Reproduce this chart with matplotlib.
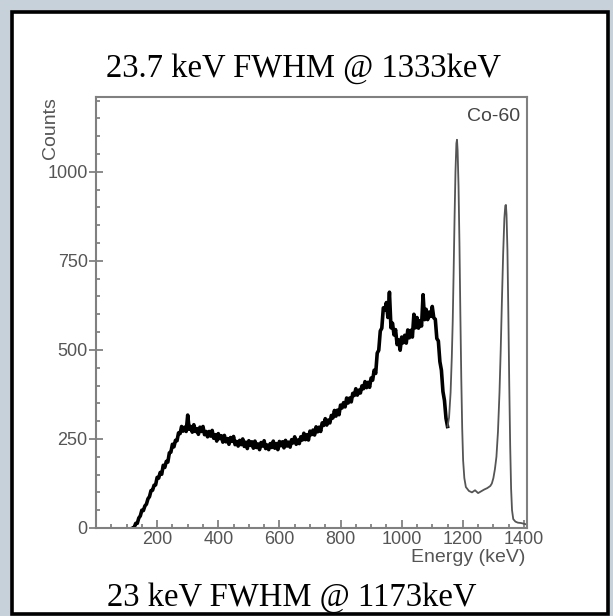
import numpy as np
import matplotlib.pyplot as plt
from matplotlib.patches import Rectangle
from matplotlib.ticker import MultipleLocator

# Co-60 spectrum, continuum part (noisy band), 5 keV bins from 120 keV
cont_energy = np.arange(120, 1151, 5)
cont_counts = [
    0, 2, 13, 13, 28, 34, 50, 49, 62, 67,
    82, 88, 105, 106, 120, 121, 142, 140, 156, 151,
    176, 170, 187, 185, 211, 213, 235, 228, 246, 245,
    267, 265, 285, 272, 283, 271, 317, 277, 285, 269,
    290, 271, 279, 263, 283, 271, 285, 262, 271, 256,
    271, 258, 274, 252, 262, 244, 265, 251, 259, 241,
    260, 242, 251, 235, 254, 243, 257, 234, 243, 230,
    246, 234, 250, 229, 241, 223, 245, 232, 242, 224,
    244, 226, 236, 220, 240, 230, 245, 223, 233, 220,
    237, 226, 244, 224, 237, 220, 243, 231, 242, 225,
    246, 230, 241, 227, 248, 239, 256, 235, 247, 237,
    256, 247, 266, 248, 262, 247, 272, 262, 275, 261,
    284, 270, 283, 271, 295, 288, 307, 289, 303, 295,
    316, 309, 330, 314, 331, 318, 345, 337, 352, 340,
    365, 351, 365, 354, 378, 372, 391, 373, 387, 379,
    399, 391, 411, 394, 409, 395, 421, 415, 443, 434,
    491, 499, 553, 561, 618, 612, 633, 591, 662, 562,
    575, 542, 557, 515, 528, 499, 536, 520, 541, 519,
    556, 534, 555, 536, 600, 562, 591, 561, 582, 567,
    655, 585, 614, 585, 606, 594, 622, 590, 586, 532,
    525, 467, 443, 383, 358, 308, 285,
]

# photopeaks at 1173 and 1333 keV (thin trace)
peak_energy = [1150, 1155, 1160, 1164, 1167, 1170, 1173, 1176, 1179, 1181,
               1183, 1186, 1189, 1192, 1195, 1198, 1201, 1205, 1210, 1220,
               1230, 1240, 1250, 1260, 1270, 1280, 1290, 1295, 1300, 1305,
               1310, 1315, 1320, 1324, 1328, 1332, 1336, 1339, 1341, 1343,
               1346, 1349, 1352, 1355, 1358, 1361, 1365, 1372, 1380, 1390,
               1400, 1408]
peak_counts = [285, 310, 380, 480, 580, 720, 870, 1000, 1080, 1090,
               1060, 960, 800, 600, 420, 280, 190, 140, 115, 104,
               100, 106, 98, 103, 108, 112, 118, 125, 140, 165,
               200, 270, 380, 500, 640, 770, 870, 905, 907, 880,
               780, 600, 400, 230, 110, 50, 25, 18, 15, 14,
               12, 10]

y_ticks = [0, 250, 500, 750, 1000]
x_ticks = [200, 400, 600, 800, 1000, 1200, 1400]

fig = plt.figure(figsize=(6.13, 6.16), dpi=100, facecolor='#c6d1d9')
fig.patches.append(Rectangle((12 / 613, 2 / 616), 596 / 613, 602 / 616,
                             transform=fig.transFigure, facecolor='white',
                             edgecolor='black', linewidth=2.6, zorder=-10))

ax = fig.add_axes([96 / 613, 88 / 616, 431 / 613, 431 / 616])
ax.set_zorder(1)
ax.plot(cont_energy, cont_counts, color='black', lw=2.6)
ax.plot(peak_energy, peak_counts, color='#555555', lw=1.3)

ax.set_xlim(0, 1410)
ax.set_ylim(0, 1210)
ax.set_xticks(x_ticks)
ax.set_yticks(y_ticks)
ax.xaxis.set_minor_locator(MultipleLocator(50))
ax.yaxis.set_minor_locator(MultipleLocator(50))

tick_font = dict(family='Liberation Sans', size=13, color='#555555')
ax.set_xticklabels([str(v) for v in x_ticks], **tick_font)
ax.set_yticklabels([str(v) for v in y_ticks], **tick_font)
ax.tick_params(axis='x', which='major', direction='in', length=6, width=1.2,
               color='#777777', pad=2)
ax.tick_params(axis='y', which='major', direction='inout', length=10, width=1.2,
               color='#777777', pad=1)
ax.tick_params(which='minor', direction='in', length=3, width=1.2, color='#777777')
for sp in ax.spines.values():
    sp.set_color('#808080')
    sp.set_linewidth(1.5)

ax.text(0.985, 0.975, 'Co-60', transform=ax.transAxes, ha='right', va='top',
        family='Liberation Sans', size=14, color='#444444')
fig.text(50 / 613, 1 - 97 / 616, 'Counts', rotation=90, ha='center', va='top',
         family='Liberation Sans', size=14, color='#555555')
fig.text(525 / 613, 1 - 557 / 616, 'Energy (keV)', ha='right', va='center',
         family='Liberation Sans', size=14, color='#555555')

fig.text(304 / 613, 1 - 77 / 616, '23.7 keV FWHM @ 1333keV', ha='center',
         va='baseline', family='Liberation Serif', size=23.5, color='black')
fig.text(107 / 613, 1 - 606 / 616, '23 keV FWHM @ 1173keV', ha='left',
         va='baseline', family='Liberation Serif', size=23.5, color='black')

fig.savefig('out.png', dpi=100, facecolor=fig.get_facecolor())
